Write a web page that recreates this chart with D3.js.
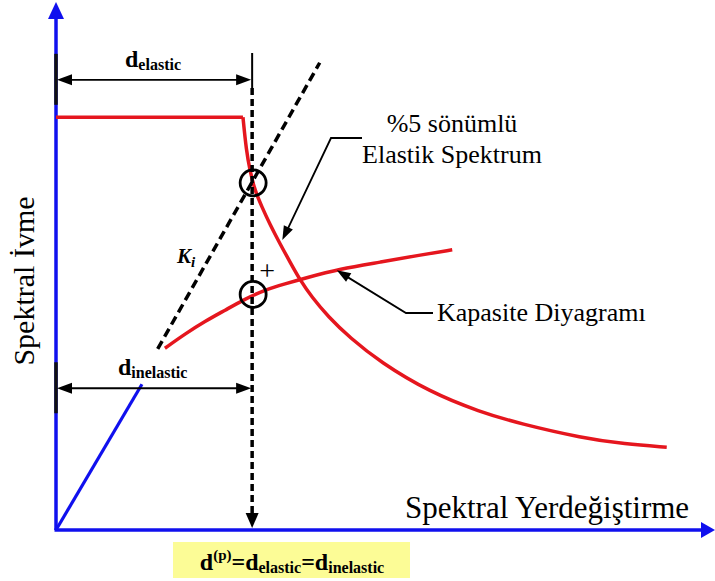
<!DOCTYPE html>
<html>
<head>
<meta charset="utf-8">
<script src="https://cdn.jsdelivr.net/npm/d3@7"></script>
<style>
  body { margin: 0; background: #fff; }
  svg { display: block; }
</style>
</head>
<body>
<svg id="chart"></svg>
<script>
let width = 715,
    height = 581,
    svg = d3.select("#chart").attr("width", width).attr("height", height);

// 5% damped elastic spectrum (Sd, Sa, arbitrary units)
const spectrumSd = [0, 2.85, 2.90, 2.96, 3.03, 3.14, 3.26, 3.41, 3.57, 3.72, 3.90, 4.15, 4.48, 4.94, 5.70, 6.46, 7.07, 8.03, 8.67, 9.31];
const spectrumSa = [6.29, 6.29, 5.79, 5.46, 5.18, 4.92, 4.66, 4.37, 4.08, 3.81, 3.55, 3.25, 2.93, 2.56, 2.10, 1.80, 1.62, 1.40, 1.31, 1.26];

// capacity diagram
const capacitySd = [1.66, 1.97, 2.27, 2.58, 2.88, 3.19, 3.49, 3.80, 4.33, 4.94, 5.55, 6.04];
const capacitySa = [2.77, 2.99, 3.18, 3.35, 3.52, 3.66, 3.75, 3.84, 3.98, 4.08, 4.19, 4.27];

// initial stiffness (blue) and Ki secant (dashed)
const initialSd = [0, 1.31];
const initialSa = [0, 2.22];
const kiSd = [1.55, 4.02];
const kiSa = [2.76, 7.12];

// performance point d(p) and the two marked intersections
const perfSd = 2.99;
const perfSa = [5.29, 3.59];

// dimension lines: d_elastic (top) and d_inelastic (bottom)
const dimSa = [6.86, 2.16];
const dimLabels = ["elastic", "inelastic"];

const x = d3.scaleLinear().domain([0, 10]).range([56, 712]);
const y = d3.scaleLinear().domain([0, 8]).range([530, 5]);

const serif = "'Liberation Serif', 'Times New Roman', serif";
const red = "#e5161e", blue = "#1010ee";

const zip = (a, b) => a.map((v, i) => [v, b[i]]);
const line = d3.line().x(d => x(d[0])).y(d => y(d[1]));
const smooth = d3.line().x(d => x(d[0])).y(d => y(d[1])).curve(d3.curveBasis);

// filled arrow head, tip at p, pointing away from q
function arrowHead(p, q, len, hw, color) {
    const dx = p[0] - q[0], dy = p[1] - q[1], L = Math.hypot(dx, dy);
    const ux = dx / L, uy = dy / L;
    const bx = p[0] - ux * len, by = p[1] - uy * len;
    svg.append("polygon")
        .attr("points", [p, [bx - uy * hw, by + ux * hw], [bx + uy * hw, by - ux * hw]].map(d => d.join(",")).join(" "))
        .attr("fill", color);
}

// axes
svg.append("line")
    .attr("x1", x(0)).attr("x2", x(0))
    .attr("y1", y(0)).attr("y2", 14)
    .attr("stroke", blue).attr("stroke-width", 3.5);
arrowHead([x(0), 2], [x(0), y(0)], 17, 8, blue);
svg.append("line")
    .attr("x1", x(0) - 1.5).attr("x2", 704)
    .attr("y1", y(0)).attr("y2", y(0))
    .attr("stroke", blue).attr("stroke-width", 3.5);
arrowHead([715, y(0)], [x(0), y(0)], 14, 8, blue);

// initial stiffness
svg.append("path")
    .attr("d", line(zip(initialSd, initialSa)))
    .attr("fill", "none").attr("stroke", blue).attr("stroke-width", 3.2);

// elastic spectrum: plateau then descending branch
const spec = zip(spectrumSd, spectrumSa);
svg.append("path")
    .attr("d", line(spec.slice(0, 2)))
    .attr("fill", "none").attr("stroke", red).attr("stroke-width", 3.5);
svg.append("path")
    .attr("d", smooth(spec.slice(1)))
    .attr("fill", "none").attr("stroke", red).attr("stroke-width", 3.5)
    .attr("stroke-linejoin", "round");

// capacity curve
svg.append("path")
    .attr("d", smooth(zip(capacitySd, capacitySa)))
    .attr("fill", "none").attr("stroke", red).attr("stroke-width", 3.5);

// Ki dashed secant
svg.append("path")
    .attr("d", line(zip(kiSd, kiSa)))
    .attr("fill", "none").attr("stroke", "black")
    .attr("stroke-width", 3.5).attr("stroke-dasharray", "9,5");

// vertical line at d(p): solid top, dashed down to the axis
svg.append("line")
    .attr("x1", x(perfSd)).attr("x2", x(perfSd))
    .attr("y1", 53).attr("y2", 88)
    .attr("stroke", "black").attr("stroke-width", 2);
svg.append("line")
    .attr("x1", x(perfSd)).attr("x2", x(perfSd))
    .attr("y1", 88).attr("y2", y(0) - 14)
    .attr("stroke", "black").attr("stroke-width", 3.5).attr("stroke-dasharray", "7,4");
arrowHead([x(perfSd), y(0) - 2], [x(perfSd), 100], 15, 6.5, "black");

// circles at the intersections
svg.selectAll(".ring")
    .data(perfSa)
    .enter()
    .append("circle")
    .attr("cx", x(perfSd) + 1)
    .attr("cy", d => y(d))
    .attr("r", 13)
    .attr("fill", "none")
    .attr("stroke", "black")
    .attr("stroke-width", 2.8);

svg.append("text")
    .attr("x", x(perfSd) + 15).attr("y", y(perfSa[1]) - 14)
    .attr("text-anchor", "middle")
    .style("font-family", serif).style("font-size", "28px")
    .text("+");

// dimension lines
dimSa.forEach((s, i) => {
    const yy = y(s);
    svg.append("line")
        .attr("x1", x(0)).attr("x2", x(0))
        .attr("y1", yy - 26).attr("y2", yy + 25)
        .attr("stroke", "#111").attr("stroke-width", 3.5);
    svg.append("line")
        .attr("x1", x(0) + 10).attr("x2", x(perfSd) - 10)
        .attr("y1", yy).attr("y2", yy)
        .attr("stroke", "black").attr("stroke-width", 1.8);
    arrowHead([x(0) + 1, yy], [x(perfSd), yy], 15, 5.5, "black");
    arrowHead([x(perfSd) - 1, yy], [x(0), yy], 15, 5.5, "black");

    const t = svg.append("text")
        .attr("x", i === 0 ? 125 : 118)
        .attr("y", yy - 13)
        .style("font-family", serif).style("font-weight", "bold");
    t.append("tspan").style("font-size", "24px").text("d");
    t.append("tspan").style("font-size", "16px").attr("dy", 3).text(dimLabels[i]);
});

// Ki label
const ki = svg.append("text")
    .attr("x", 177).attr("y", 263)
    .style("font-family", serif).style("font-weight", "bold").style("font-style", "italic");
ki.append("tspan").style("font-size", "21px").text("K");
ki.append("tspan").style("font-size", "15px").attr("dy", 4).text("i");

// leader: elastic spectrum
const tipE = [x(3.45), y(4.42)];
svg.append("polyline")
    .attr("points", [[362, 138], [331, 138], [tipE[0] + 4, tipE[1] - 8]].map(d => d.join(",")).join(" "))
    .attr("fill", "none").attr("stroke", "black").attr("stroke-width", 1.8);
arrowHead(tipE, [331, 138], 14, 5, "black");

svg.append("text")
    .attr("x", 452).attr("y", 132)
    .attr("text-anchor", "middle")
    .style("font-family", serif).style("font-size", "26px")
    .text("%5 sönümlü");
svg.append("text")
    .attr("x", 452).attr("y", 163)
    .attr("text-anchor", "middle")
    .style("font-family", serif).style("font-size", "26px")
    .text("Elastik Spektrum");

// leader: capacity diagram
const tipK = [x(4.28), y(3.96)];
svg.append("polyline")
    .attr("points", [[433, 313], [406, 313], [tipK[0] + 6, tipK[1] + 4]].map(d => d.join(",")).join(" "))
    .attr("fill", "none").attr("stroke", "black").attr("stroke-width", 1.8);
arrowHead(tipK, [406, 313], 14, 5, "black");

svg.append("text")
    .attr("x", 437).attr("y", 321)
    .style("font-family", serif).style("font-size", "26px")
    .text("Kapasite Diyagramı");

// axis titles
svg.append("text")
    .attr("x", 405).attr("y", 518)
    .style("font-family", serif).style("font-size", "31px")
    .text("Spektral Yerdeğiştirme");
svg.append("text")
    .attr("transform", "translate(34,281) rotate(-90)")
    .attr("text-anchor", "middle")
    .style("font-family", serif).style("font-size", "30px")
    .text("Spektral İvme");

// yellow equation box
svg.append("rect")
    .attr("x", 173).attr("y", 542)
    .attr("width", 237).attr("height", 36)
    .attr("fill", "#fcfc96");
const eq = svg.append("text")
    .attr("x", 292).attr("y", 570)
    .attr("text-anchor", "middle")
    .style("font-family", serif).style("font-weight", "bold");
eq.append("tspan").style("font-size", "24px").text("d");
eq.append("tspan").style("font-size", "15px").attr("dy", -10).text("(p)");
eq.append("tspan").style("font-size", "24px").attr("dy", 10).text("=d");
eq.append("tspan").style("font-size", "16px").attr("dy", 3).text("elastic");
eq.append("tspan").style("font-size", "24px").attr("dy", -3).text("=d");
eq.append("tspan").style("font-size", "16px").attr("dy", 3).text("inelastic");
</script>
</body>
</html>
